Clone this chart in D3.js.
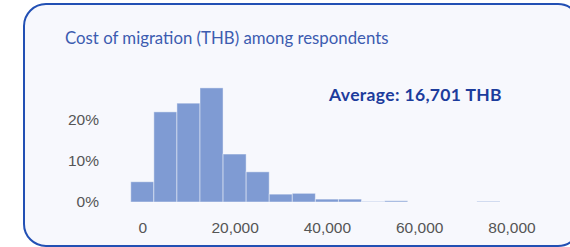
<!DOCTYPE html>
<html>
<head>
<meta charset="utf-8">
<script src="https://cdn.jsdelivr.net/npm/d3@7"></script>
<style>
  body { margin: 0; background: #fff; }
</style>
</head>
<body>
<div id="chart"></div>
<script>
// Canvas size
var width = 570;
var height = 247;

// Histogram bins: centre of each 5,000 THB bin, and share of respondents (%)
var binCenters = [0, 5000, 10000, 15000, 20000, 25000, 30000, 35000, 40000, 45000, 50000, 55000, 60000, 65000, 70000, 75000];
var binShares = [4.9, 21.8, 23.9, 27.6, 11.6, 7.3, 1.9, 2.1, 0.7, 0.7, 0.1, 0.3, 0, 0, 0, 0.15];
var binWidth = 5000;

var xTicks = [0, 20000, 40000, 60000, 80000];
var yTicks = [0, 10, 20];

var titleText = "Cost of migration (THB) among respondents";
var averageText = "Average: 16,701 THB";

var svg = d3.select("#chart").append("svg")
    .attr("width", width)
    .attr("height", height);

// Card behind the chart
svg.append("rect")
    .attr("x", 24)
    .attr("y", 4)
    .attr("width", 556)
    .attr("height", 242)
    .attr("rx", 22)
    .attr("fill", "#f7f8fd")
    .attr("stroke", "#2250b4")
    .attr("stroke-width", 2);

svg.append("text")
    .attr("x", 65)
    .attr("y", 44)
    .attr("fill", "#3c5cb0")
    .style("font-family", "Lato, sans-serif")
    .style("font-size", "16.8px")
    .text(titleText);

// Scales
var x = d3.scaleLinear().domain([0, 80000]).range([142.3, 511.5]);
var y = d3.scaleLinear().domain([0, 20]).range([202, 119.3]);

// Bars
svg.append("g").selectAll("rect")
  .data(binCenters)
  .enter().append("rect")
    .attr("x", function(d) { return x(d - binWidth / 2); })
    .attr("width", function(d) { return x(d + binWidth / 2) - x(d - binWidth / 2); })
    .attr("y", function(d, i) { return y(binShares[i]); })
    .attr("height", function(d, i) { return y(0) - y(binShares[i]); })
    .attr("fill", "#7f9bd3")
    .attr("stroke", "rgba(255,255,255,0.45)")
    .attr("stroke-width", 1);

// Y axis
var yAxis = svg.append("g")
    .attr("transform", "translate(99,0)")
    .call(d3.axisLeft(y).tickValues(yTicks).tickSize(0).tickPadding(0)
      .tickFormat(function(d) { return d + "%"; }));

// X axis
var xAxis = svg.append("g")
    .attr("transform", "translate(0," + y(0) + ")")
    .call(d3.axisBottom(x).tickValues(xTicks).tickSize(0).tickPadding(20)
      .tickFormat(d3.format(",")));

svg.selectAll(".domain").remove();
svg.selectAll(".tick text")
    .attr("fill", "#555")
    .style("font-family", "'Liberation Sans', Arial, sans-serif")
    .style("font-size", "15.5px");

// Average label
svg.append("text")
    .attr("x", 502)
    .attr("y", 101)
    .attr("text-anchor", "end")
    .attr("fill", "#1c3c9c")
    .style("font-family", "Lato, sans-serif")
    .style("font-weight", "bold")
    .style("font-size", "17.5px")
    .style("letter-spacing", "0.35px")
    .text(averageText);
</script>
</body>
</html>
